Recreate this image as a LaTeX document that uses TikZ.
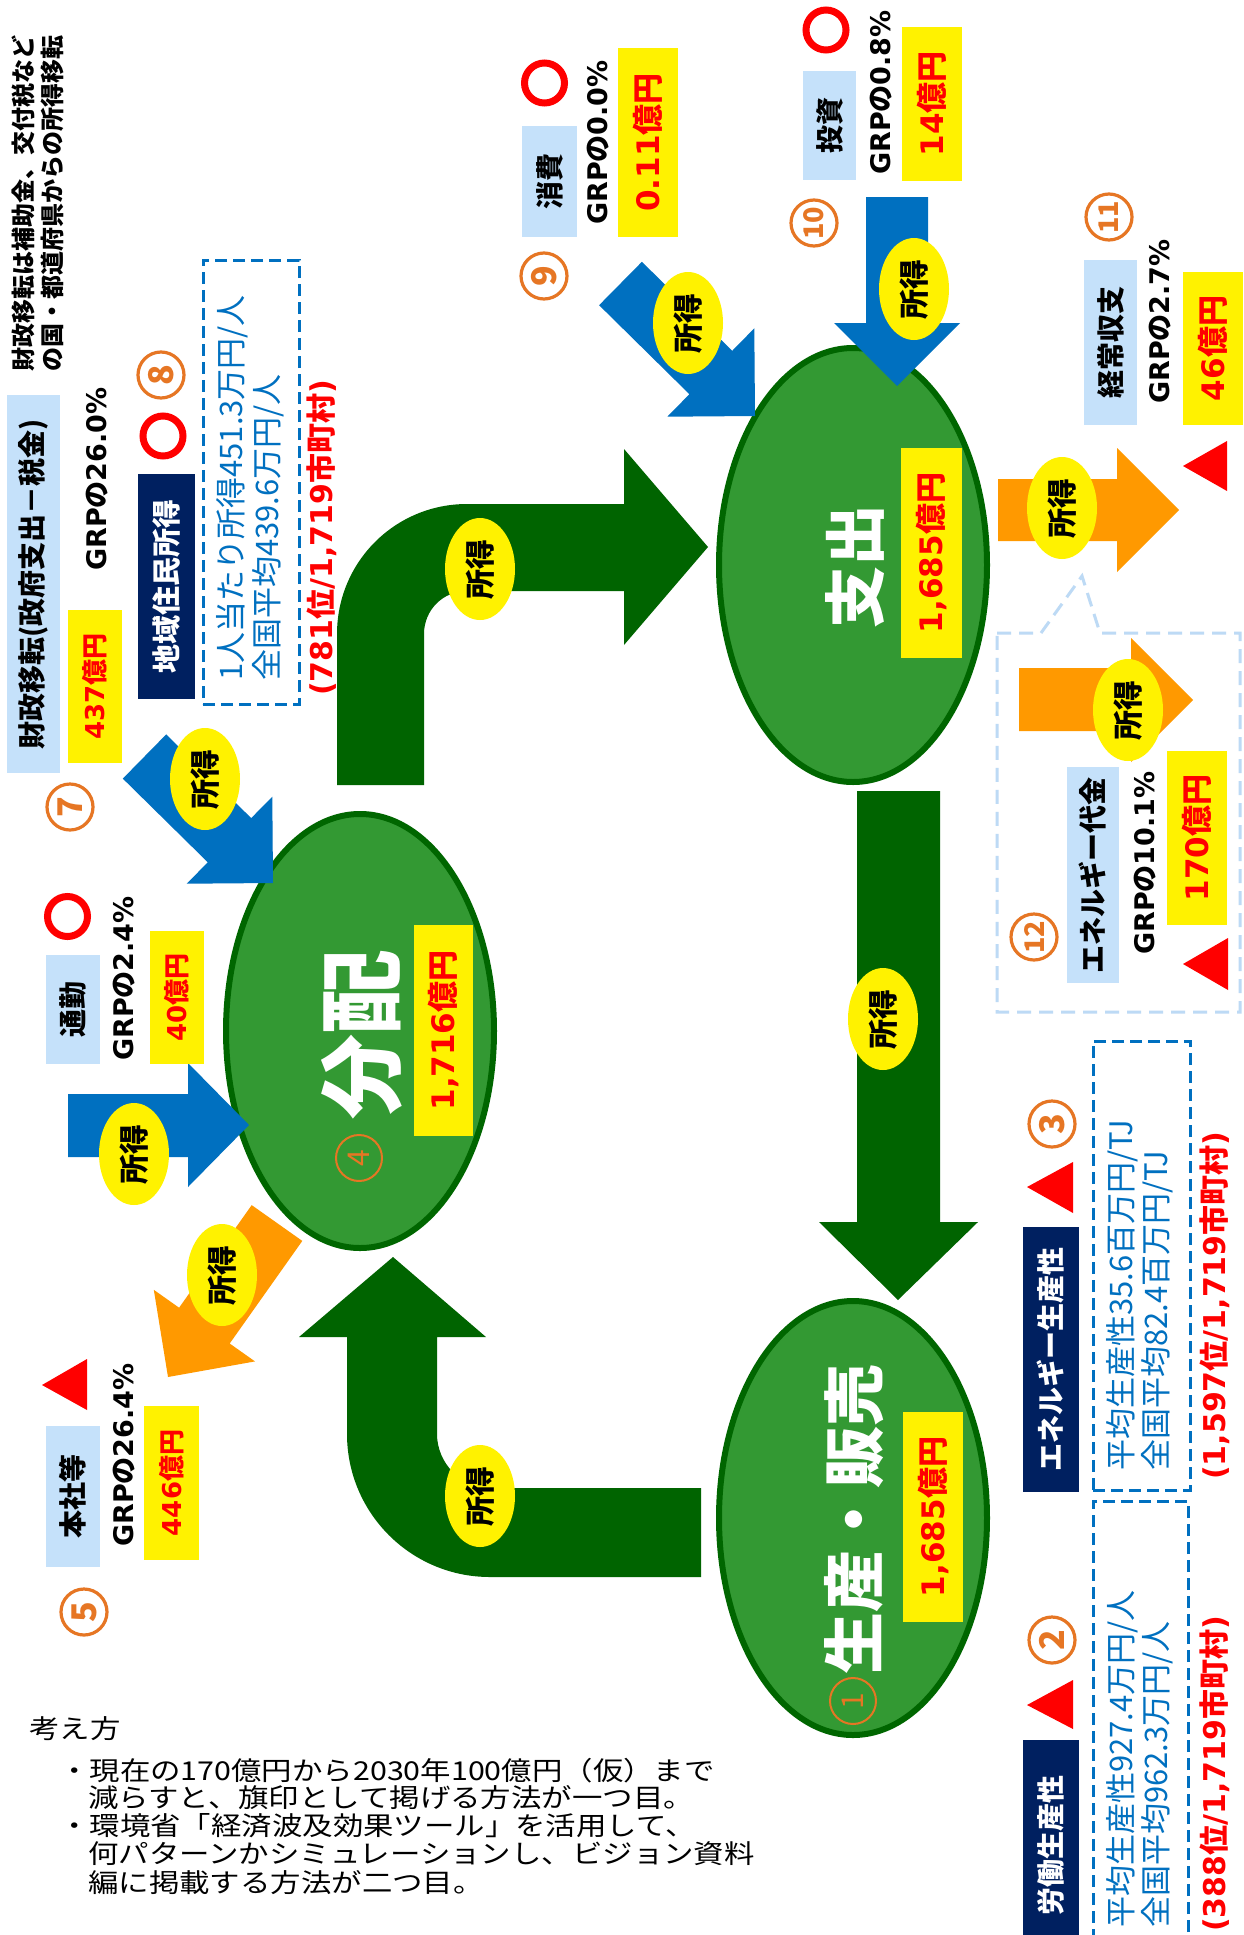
\documentclass[tikz,border=0pt]{standalone}
\usepackage{fontspec}
\setmainfont{Noto Sans CJK JP}
\newfontfamily\dv{DejaVu Sans}
\usetikzlibrary{shapes.geometric}
\definecolor{ellfill}{RGB}{51,153,51}
\definecolor{ellline}{RGB}{0,102,0}
\definecolor{dgreen}{RGB}{0,100,0}
\definecolor{cblue}{RGB}{0,112,192}
\definecolor{corange}{RGB}{255,153,0}
\definecolor{lblue}{RGB}{197,225,250}
\definecolor{navy}{RGB}{0,32,96}
\definecolor{numor}{RGB}{230,118,36}
\definecolor{callout}{RGB}{189,218,245}
\newcommand{\myfs}[1]{\fontsize{#1}{#1}\selectfont}
\newcommand{\grpv}[1]{{\dv GRP}の{\dv #1}}
\newcommand{\oku}[1]{{\dv #1}億円}
\newcommand{\myrank}[1]{{\dv (#1}位{\dv /1,719}市町村{\dv )}}
\tikzset{
  every node/.style={inner sep=0pt},
  rotl/.style={rotate=90},
  lbox/.style={rotl, fill=lblue, font=\bfseries\myfs{28}},
  ybox/.style={rotl, fill=yellow, text=red, font=\bfseries\myfs{31}},
  ysmall/.style={ybox, font=\bfseries\myfs{26}},
  nbox/.style={rotl, fill=navy, text=white, font=\bfseries\myfs{28}},
  grpline/.style={rotl, anchor=west, font=\bfseries\myfs{27}},
  btxt/.style={rotl, anchor=west, text=cblue, font=\myfs{31}},
  rtxt/.style={rotl, anchor=west, text=red, font=\bfseries\myfs{30}},
  bigell/.style={ellipse, fill=ellfill, draw=ellline, line width=6pt, minimum width=268pt, minimum height=434pt},
  bigtxt/.style={rotl, text=white, font=\bfseries\myfs{62}},
  shotoku/.style={ellipse, rotl, fill=yellow, minimum width=102pt, minimum height=70pt, font=\bfseries\myfs{30}},
  cnum/.style={circle, rotl, draw=numor, line width=3.2pt, minimum size=46pt, text=numor, font=\bfseries\myfs{34}},
  cnum2/.style={cnum, font=\bfseries\myfs{27}},
  redring/.style={circle, draw=red, line width=7pt, minimum size=40pt},
  dbox/.style={draw=cblue, line width=3pt, dash pattern=on 12pt off 6pt},
  kangae/.style={anchor=west, font=\myfs{26}, xscale=1.17}
}
\begin{document}
\begin{tikzpicture}[x=1pt, y=-1pt]
\useasboundingbox (0,0) rectangle (1243,1935);
\fill[white] (0,0) rectangle (1243,1935);
\begin{scope}
\clip (0,0) rectangle (1243,1935);

% green flow arrows
\fill[dgreen] (337,785) -- (337,634) .. controls (337,562) and (395,504) .. (467,504) -- (624,504) -- (624,449) -- (708,547) -- (624,645) -- (624,591) -- (467,591) .. controls (443,591) and (424,610) .. (424,634) -- (424,785) -- cycle;
\fill[dgreen] (701,1488) -- (490,1488) .. controls (461,1488) and (437,1463) .. (437,1434) -- (437,1337) -- (486,1337) -- (393,1257) -- (299,1337) -- (347,1337) -- (347,1434) .. controls (347,1513) and (411,1577) .. (490,1577) -- (701,1577) -- cycle;
\fill[dgreen] (857,791) -- (940,791) -- (940,1222) -- (978,1222) -- (898,1300) -- (819,1222) -- (857,1222) -- cycle;
% orange arrow 5
\fill[corange] (251.7,1205.1) -- (179.1,1307.7) -- (153.8,1289.8) -- (168,1377) -- (255,1361.4) -- (229.7,1343.5) -- (302.3,1240.9) -- cycle;

% ellipses
\node[bigell] (bunpai) at (360,1031) {};
\node[bigell] (shishutsu) at (853,565) {};
\node[bigell] (seisan) at (853,1518) {};

% blue arrows
\fill[cblue] (166.2,734.4) -- (251.2,818.1) -- (272.3,796.7) -- (273,883) -- (186.7,883.7) -- (207.8,862.3) -- (122.8,778.6) -- cycle;
\fill[cblue] (641.9,261.8) -- (732.2,350.8) -- (754.3,328.3) -- (755,416) -- (667.3,416.7) -- (689.4,394.2) -- (599.1,305.2) -- cycle;
\fill[cblue] (866,197) -- (928,197) -- (928,323) -- (960,323) -- (897,386) -- (834,323) -- (866,323) -- cycle;
\fill[cblue] (68,1094) -- (188,1094) -- (188,1063) -- (249,1125) -- (188,1187) -- (188,1157) -- (68,1157) -- cycle;
% orange arrows 11, 12
\fill[corange] (998,479) -- (1117,479) -- (1117,448) -- (1179,510) -- (1117,572) -- (1117,541) -- (998,541) -- cycle;
\fill[corange] (1019,668) -- (1131,668) -- (1131,638) -- (1193,700) -- (1131,762) -- (1131,731) -- (1019,731) -- cycle;
% callout
\draw[callout, line width=3pt, dash pattern=on 14pt off 8pt] (997,633) -- (1041,633) -- (1082,576) -- (1100,633) -- (1240,633) -- (1240,1012) -- (997,1012) -- cycle;

% top-left note
\node[rotl, anchor=west, font=\bfseries\myfs{24}] (note1) at (23,372) {財政移転は補助金、交付税など};
\node[rotl, anchor=west, font=\bfseries\myfs{24}] (note2) at (52,372) {の国・都道府県からの所得移転};

% group 7
\node[lbox, minimum width=378pt, minimum height=53pt] (l7) at (33.5,584) {財政移転(政府支出－税金)};
\node[grpline] (g7) at (97,571) {\grpv{26.0\%}};
\node[ysmall, minimum width=153pt, minimum height=54pt] (v7) at (95,686.5) {\oku{437}};
\node[cnum] (n7) at (70,807) {7};

% group 8
\node[nbox, minimum width=225pt, minimum height=57pt, font=\bfseries\myfs{29}] (l8) at (166.5,586.5) {地域住民所得};
\node[redring] (r8) at (163,436) {};
\node[cnum] (n8) at (161,375) {8};
\node[dbox, minimum width=96pt, minimum height=444pt] (d8) at (251,482) {};
\node[btxt] (b8a) at (232,681) {1人当たり所得451.3万円/人};
\node[btxt] (b8b) at (268,681) {全国平均439.6万円/人};
\node[rtxt] (rk8) at (322,696) {\myrank{781}};

% commuting
\node[lbox, minimum width=109pt, minimum height=54pt] (l6) at (73,1009.5) {通勤};
\node[grpline] (g6) at (124,1061) {\grpv{2.4\%}};
\node[ysmall, minimum width=133pt, minimum height=54pt] (v6) at (177,997.5) {\oku{40}};
\node[redring] (r6) at (67.5,916.5) {};

% group 5
\node[lbox, minimum width=141pt, minimum height=54pt] (l5) at (73,1496.5) {本社等};
\node[grpline] (g5) at (124,1547) {\grpv{26.4\%}};
\node[ysmall, minimum width=154pt, minimum height=55pt] (v5) at (171.5,1483) {\oku{446}};
\fill[red] (42,1385) -- (87,1359) -- (87,1410) -- cycle;
\node[cnum] (n5) at (84,1612) {5};

% group 9
\node[lbox, minimum width=111pt, minimum height=55pt] (l9) at (549.5,181.5) {消費};
\node[grpline] (g9) at (598,225) {\grpv{0.0\%}};
\node[ybox, minimum width=189pt, minimum height=60pt] (v9) at (648,142.5) {\oku{0.11}};
\node[redring] (r9) at (544.5,83) {};
\node[cnum] (n9) at (544,276) {9};

% group 10
\node[lbox, minimum width=109pt, minimum height=53pt] (l10) at (829.5,125.5) {投資};
\node[grpline] (g10) at (881,175) {\grpv{0.8\%}};
\node[ybox, minimum width=154pt, minimum height=60pt] (v10) at (932,104) {\oku{14}};
\node[redring] (r10) at (826,30) {};
\node[cnum2] (n10) at (814,223) {10};

% group 11
\node[lbox, minimum width=165pt, minimum height=53pt] (l11) at (1110.5,342.5) {経常収支};
\node[grpline] (g11) at (1160,404) {\grpv{2.7\%}};
\node[ybox, minimum width=153pt, minimum height=60pt] (v11) at (1213,348.5) {\oku{46}};
\fill[red] (1183,466) -- (1227,441) -- (1227,491) -- cycle;
\node[cnum2] (n11) at (1109,217) {11};

% group 12
\node[lbox, minimum width=216pt, minimum height=52pt] (l12) at (1093,875) {エネルギー代金};
\node[grpline] (g12) at (1145,955) {\grpv{10.1\%}};
\node[ybox, minimum width=174pt, minimum height=60pt] (v12) at (1197,838) {\oku{170}};
\fill[red] (1183,964) -- (1228,938) -- (1228,990) -- cycle;
\node[cnum2] (n12) at (1034,937) {12};

% group 3
\node[nbox, minimum width=265pt, minimum height=56pt] (l3) at (1051,1359.5) {エネルギー生産性};
\fill[red] (1027,1187) -- (1073,1162) -- (1073,1213) -- cycle;
\node[cnum] (n3) at (1052,1124) {3};
\node[dbox, minimum width=97pt, minimum height=449pt] (d3) at (1141.5,1265.5) {};
\node[btxt] (b3a) at (1122,1471) {平均生産性35.6百万円/TJ};
\node[btxt] (b3b) at (1157,1471) {全国平均82.4百万円/TJ};
\node[rtxt] (rk3) at (1215,1480) {\myrank{1,597}};

% group 2
\node[nbox, minimum width=210pt, minimum height=56pt] (l2) at (1051,1845) {労働生産性};
\fill[red] (1027,1705) -- (1073,1680) -- (1073,1729) -- cycle;
\node[cnum] (n2) at (1052,1640) {2};
\node[dbox, minimum width=95pt, minimum height=444pt] (d2) at (1140.5,1723) {};
\node[btxt] (b2a) at (1122,1928) {平均生産性927.4万円/人};
\node[btxt] (b2b) at (1157,1928) {全国平均962.3万円/人};
\node[rtxt] (rk2) at (1215,1932) {\myrank{388}};

% shotoku labels
\node[shotoku] (s1) at (480,569) {所得};
\node[shotoku] (s2) at (480,1496) {所得};
\node[shotoku] (s3) at (883,1019) {所得};
\node[shotoku] (s4) at (205,779) {所得};
\node[shotoku] (s5) at (688,323) {所得};
\node[shotoku] (s6) at (914,289) {所得};
\node[shotoku] (s7) at (134,1154) {所得};
\node[shotoku] (s8) at (222,1275) {所得};
\node[shotoku] (s9) at (1062,508) {所得};
\node[shotoku] (s10) at (1128,710) {所得};

% ellipse contents
\node[bigtxt, font=\bfseries\myfs{85}] (t4) at (362,1034) {分配};
\node[ybox, minimum width=211pt, minimum height=59pt] (v4) at (443.5,1030.5) {\oku{1,716}};
\node[cnum, line width=2pt, font=\myfs{30}] (n4) at (359,1158) {4};
\node[bigtxt] (t2) at (855,566) {支出};
\node[ybox, minimum width=210pt, minimum height=61pt] (vs) at (931.5,553) {\oku{1,685}};
\node[bigtxt] (t1) at (854,1519) {生産・販売};
\node[ybox, minimum width=210pt, minimum height=60pt] (v1) at (933,1517) {\oku{1,685}};
\node[cnum, line width=2pt, font=\myfs{30}] (n1) at (853,1701) {1};
\end{scope}

% bottom-left note (horizontal)
\node[kangae] (k0) at (29,1729) {考え方};
\node[kangae] (k1) at (59,1771) {・現在の170億円から2030年100億円（仮）まで};
\node[kangae] (k2) at (88,1798) {減らすと、旗印として掲げる方法が一つ目。};
\node[kangae] (k3) at (59,1826) {・環境省「経済波及効果ツール」を活用して、};
\node[kangae] (k4) at (88,1854) {何パターンかシミュレーションし、ビジョン資料};
\node[kangae] (k5) at (88,1883) {編に掲載する方法が二つ目。};
\end{tikzpicture}
\end{document}
